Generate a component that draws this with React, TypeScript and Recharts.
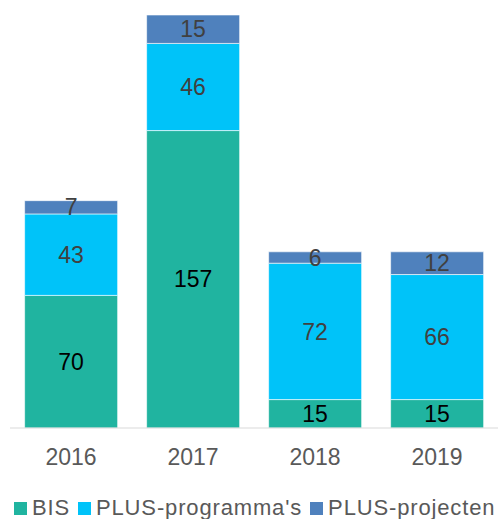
import React from 'react';
import { BarChart, Bar, XAxis, YAxis, Legend, LabelList } from 'recharts';

const years = ['2016', '2017', '2018', '2019'];
const bis = [70, 157, 15, 15];
const programmas = [43, 46, 72, 66];
const projecten = [7, 15, 6, 12];

const COLORS = {
  bis: '#20B4A0',
  programmas: '#00C3F9',
  projecten: '#4F81BD'
};

const data = years.map((year, i) => ({
  year,
  bis: bis[i],
  programmas: programmas[i],
  projecten: projecten[i]
}));

const legendItems = [
  { key: 'bis', name: 'BIS', color: COLORS.bis },
  { key: 'programmas', name: "PLUS-programma's", color: COLORS.programmas },
  { key: 'projecten', name: 'PLUS-projecten', color: COLORS.projecten }
];

const renderLegend = () => (
  <div style={{ display: 'flex', alignItems: 'center', paddingLeft: 4, paddingTop: 13, whiteSpace: 'nowrap' }}>
    {legendItems.map(item => (
      <span key={item.key} style={{ display: 'flex', alignItems: 'center', marginRight: 8, height: 20 }}>
        <span style={{ width: 13, height: 13, background: item.color, display: 'inline-block', marginRight: 5 }} />
        <span style={{ fontSize: 22, lineHeight: '20px', letterSpacing: 0.85, color: '#595959' }}>{item.name}</span>
      </span>
    ))}
  </div>
);

const labelStyle = { fontSize: 23, fontFamily: '"Liberation Sans", Arial, sans-serif' };

const App = () => {
  return (
    <div style={{ position: 'absolute', left: 0, top: 0, width: 500, height: 519, background: '#fff', fontFamily: '"Liberation Sans", Arial, sans-serif' }}>
      <BarChart
        width={500}
        height={519}
        data={data}
        margin={{ top: 15, right: 2, bottom: 0, left: 10 }}
        barCategoryGap="12%"
      >
        <XAxis
          dataKey="year"
          axisLine={{ stroke: '#d9d9d9' }}
          tickLine={false}
          tick={{ fill: '#595959', fontSize: 23 }}
          tickMargin={15}
          height={57}
        />
        <YAxis hide domain={[0, 218]} />
        <Legend verticalAlign="bottom" height={34} content={renderLegend} />
        <Bar dataKey="bis" stackId="a" fill={COLORS.bis} stroke="#fff" strokeWidth={0.6} isAnimationActive={false}>
          <LabelList dataKey="bis" position="center" fill="#000" style={labelStyle} />
        </Bar>
        <Bar dataKey="programmas" stackId="a" fill={COLORS.programmas} stroke="#fff" strokeWidth={0.6} isAnimationActive={false}>
          <LabelList dataKey="programmas" position="center" fill="#404040" style={labelStyle} />
        </Bar>
        <Bar dataKey="projecten" stackId="a" fill={COLORS.projecten} stroke="#fff" strokeWidth={0.6} isAnimationActive={false}>
          <LabelList dataKey="projecten" position="center" fill="#404040" style={labelStyle} />
        </Bar>
      </BarChart>
    </div>
  );
};

export default App;
